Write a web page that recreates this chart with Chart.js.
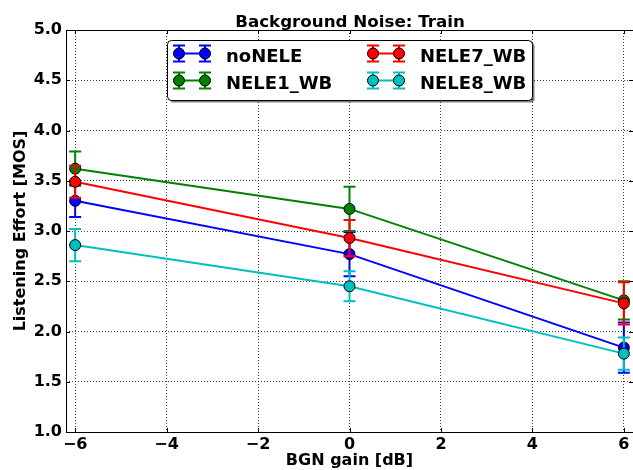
<!DOCTYPE html>
<html>
<head>
<meta charset="utf-8">
<script src="https://cdn.jsdelivr.net/npm/chart.js@4/dist/chart.umd.min.js"></script>
<style>
  html, body { margin: 0; padding: 0; background: #fff; }
  #wrap { width: 633px; height: 470px; }
</style>
</head>
<body>
<div id="wrap"><canvas id="chart" width="633" height="470"></canvas></div>
<script>
// BGN gain (x) and tick values
const gains = [-6, 0, 6];
const xTicks = [-6, -4, -2, 0, 2, 4, 6];
const yTicks = [1.0, 1.5, 2.0, 2.5, 3.0, 3.5, 4.0, 4.5, 5.0];

// series: mean MOS and error (half length of the bar)
const seriesNames = ['noNELE', 'NELE1_WB', 'NELE7_WB', 'NELE8_WB'];
const noNELE = [3.30, 2.77, 1.84];
const noNELEErr = [0.16, 0.22, 0.25];
const nele1 = [3.62, 3.22, 2.31];
const nele1Err = [0.17, 0.22, 0.19];
const nele7 = [3.49, 2.93, 2.28];
const nele7Err = [0.16, 0.18, 0.21];
const nele8 = [2.86, 2.45, 1.78];
const nele8Err = [0.16, 0.15, 0.16];
const colors = ['#0000ff', '#008000', '#ff0000', '#00bfbf'];

const FONT = 'DejaVu Sans';
const values = [noNELE, nele1, nele7, nele8];
const errors = [noNELEErr, nele1Err, nele7Err, nele8Err];

const datasets = seriesNames.map((name, i) => ({
    label: name,
    data: gains.map((g, j) => ({ x: g, y: values[i][j] })),
    errors: errors[i],
    borderColor: colors[i],
    backgroundColor: colors[i],
    pointBackgroundColor: colors[i],
    pointBorderColor: '#000',
    pointBorderWidth: 1,
    pointRadius: 5.5,
    borderWidth: 2,
    tension: 0,
    order: seriesNames.length - 1 - i // later series drawn on top
}));

// error bars under each series' markers
const errorBars = {
    id: 'errorBars',
    beforeDatasetDraw(chart, args) {
        const ds = chart.data.datasets[args.index];
        const { ctx, scales: { x, y } } = chart;
        ctx.save();
        ctx.strokeStyle = ds.borderColor;
        ctx.lineWidth = 2;
        ds.data.forEach((p, j) => {
            const px = x.getPixelForValue(p.x);
            const top = y.getPixelForValue(p.y + ds.errors[j]);
            const bot = y.getPixelForValue(p.y - ds.errors[j]);
            ctx.beginPath();
            ctx.moveTo(px, top); ctx.lineTo(px, bot);
            ctx.moveTo(px - 6, top); ctx.lineTo(px + 6, top);
            ctx.moveTo(px - 6, bot); ctx.lineTo(px + 6, bot);
            ctx.stroke();
        });
        ctx.restore();
    }
};

// frame, inward ticks, title and legend (matplotlib look)
const decor = {
    id: 'decor',
    afterDraw(chart) {
        const { ctx, chartArea: a, scales: { x, y } } = chart;
        ctx.save();
        ctx.strokeStyle = '#000';
        ctx.lineWidth = 1;
        ctx.strokeRect(Math.round(a.left) + 0.5, Math.round(a.top) + 0.5,
            Math.round(a.right - a.left), Math.round(a.bottom - a.top));
        ctx.beginPath();
        xTicks.forEach(t => {
            const px = Math.round(x.getPixelForValue(t)) + 0.5;
            ctx.moveTo(px, a.bottom); ctx.lineTo(px, a.bottom - 4);
            ctx.moveTo(px, a.top); ctx.lineTo(px, a.top + 4);
        });
        yTicks.forEach(t => {
            const py = Math.round(y.getPixelForValue(t)) + 0.5;
            ctx.moveTo(a.left, py); ctx.lineTo(a.left + 4, py);
            ctx.moveTo(a.right, py); ctx.lineTo(a.right - 4, py);
        });
        ctx.stroke();

        // title
        ctx.fillStyle = '#000';
        ctx.font = 'bold 16.7px "' + FONT + '"';
        ctx.textAlign = 'center';
        ctx.textBaseline = 'alphabetic';
        ctx.fillText('Background Noise: Train', (a.left + a.right) / 2 + 0.5, 26.5);

        // legend box
        const L = 167, T = 40, W = 365, H = 60;
        const rr = (ox, oy) => {
            ctx.beginPath();
            ctx.roundRect(L + ox + 0.5, T + oy + 0.5, W, H, 4);
        };
        rr(2, 2); ctx.fillStyle = 'rgba(0,0,0,0.5)'; ctx.fill();
        rr(0, 0); ctx.fillStyle = '#fff'; ctx.fill(); ctx.strokeStyle = '#000'; ctx.stroke();

        const cols = [{ m: L + 12, t: L + 59 }, { m: L + 206, t: L + 253 }];
        const rows = [T + 13.5, T + 40.5];
        const slots = [[0, 0], [0, 1], [1, 0], [1, 1]];
        chart.data.datasets.forEach((ds, i) => {
            const c = cols[slots[i][0]], ry = rows[slots[i][1]];
            ctx.strokeStyle = ds.borderColor;
            ctx.lineWidth = 2;
            ctx.beginPath();
            ctx.moveTo(c.m, ry); ctx.lineTo(c.m + 26, ry);
            [c.m, c.m + 26].forEach(mx => {
                ctx.moveTo(mx, ry - 8); ctx.lineTo(mx, ry + 8);
                ctx.moveTo(mx - 6, ry - 8); ctx.lineTo(mx + 6, ry - 8);
                ctx.moveTo(mx - 6, ry + 8); ctx.lineTo(mx + 6, ry + 8);
            });
            ctx.stroke();
            [c.m, c.m + 26].forEach(mx => {
                ctx.beginPath();
                ctx.arc(mx, ry, 5.5, 0, Math.PI * 2);
                ctx.fillStyle = ds.borderColor; ctx.fill();
                ctx.lineWidth = 1; ctx.strokeStyle = '#000'; ctx.stroke();
            });
            ctx.fillStyle = '#000';
            ctx.font = 'bold 18px "' + FONT + '"';
            ctx.textAlign = 'left';
            ctx.textBaseline = 'alphabetic';
            ctx.fillText(ds.label, c.t, ry + 8);
        });
        ctx.restore();
    }
};

const gridStyle = { color: 'rgba(0,0,0,0.75)', lineWidth: 1, drawTicks: false };

new Chart(document.getElementById('chart'), {
    type: 'line',
    data: { datasets },
    plugins: [errorBars, decor],
    options: {
        responsive: false,
        animation: false,
        layout: { autoPadding: false, padding: { top: 30, left: 0, right: 0, bottom: 0 } },
        plugins: {
            legend: { display: false },
            title: { display: false },
            tooltip: { enabled: false }
        },
        scales: {
            x: {
                type: 'linear',
                min: -6.2,
                max: 6.2,
                afterBuildTicks: s => { s.ticks = xTicks.map(v => ({ value: v })); },
                afterFit: s => { s.height = 38; s.paddingLeft = 0; s.paddingRight = 0; },
                border: { display: false, dash: [1, 2] },
                grid: gridStyle,
                ticks: {
                    color: '#000',
                    padding: 3,
                    maxRotation: 0,
                    font: { family: FONT, size: 16, weight: 'bold' },
                    callback: v => String(v).replace('-', '\u2212')
                },
                title: {
                    display: true,
                    text: 'BGN gain [dB]',
                    color: '#000',
                    padding: 0,
                    font: { family: FONT, size: 16, weight: 'bold' }
                }
            },
            y: {
                min: 1,
                max: 5,
                afterBuildTicks: s => { s.ticks = yTicks.map(v => ({ value: v })); },
                afterFit: s => { s.width = 66; s.paddingTop = 0; s.paddingBottom = 0; },
                border: { display: false, dash: [1, 2] },
                grid: gridStyle,
                ticks: {
                    color: '#000',
                    padding: 4,
                    font: { family: FONT, size: 16, weight: 'bold' },
                    callback: v => Number(v).toFixed(1)
                },
                title: {
                    display: true,
                    text: 'Listening Effort [MOS]',
                    color: '#000',
                    padding: { top: 11, bottom: 0 },
                    font: { family: FONT, size: 16, weight: 'bold' }
                }
            }
        }
    }
});
</script>
</body>
</html>
